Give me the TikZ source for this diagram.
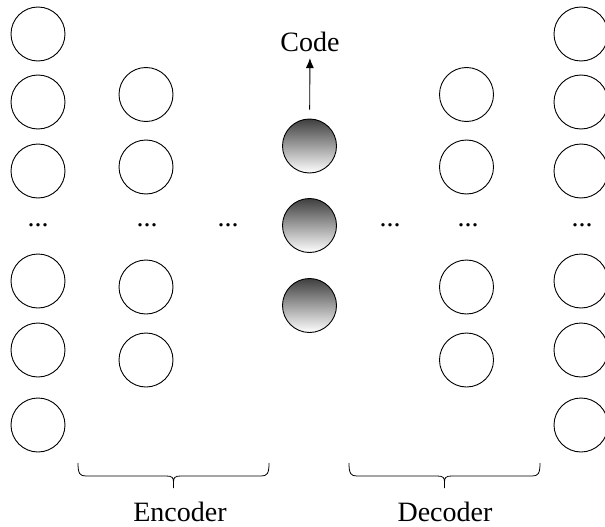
\documentclass[tikz,border=0pt]{standalone}
\usepackage{fontspec}
\setmainfont{Liberation Serif}
\usetikzlibrary{arrows.meta}
\usetikzlibrary{calc}

\tikzset{
    unit/.style={circle, draw, line width=0.9pt, minimum size=54pt, inner sep=0pt},
    codeunit/.style={unit, top color=black!75, bottom color=white},
    dots/.style={font=\fontsize{28}{33}\selectfont, inner sep=0pt},
    lbl/.style={font=\fontsize{28}{33}\selectfont, inner sep=6pt},
    brc/.style={line width=0.8pt, to path={
        let \p1=(\tikztostart), \p2=(\tikztotarget), \p3=($(\p1)!0.5!(\p2)$) in
        (\p1) .. controls (\x1,\y1-11pt) and (\x1+2pt,\y1-13pt) .. (\x1+8pt,\y1-13pt)
        -- (\x3-7pt,\y1-13pt) .. controls (\x3-1pt,\y1-13pt) and (\x3,\y1-15pt) .. (\x3,\y1-19pt)
        -- (\x3,\y1-25pt) -- (\x3,\y1-19pt)
        .. controls (\x3,\y1-15pt) and (\x3+1pt,\y1-13pt) .. (\x3+7pt,\y1-13pt)
        -- (\x2-8pt,\y1-13pt) .. controls (\x2-2pt,\y1-13pt) and (\x2,\y1-11pt) .. (\p2)}}
}

\begin{document}
\begin{tikzpicture}[x=1pt, y=-1pt]
\useasboundingbox (0,0) rectangle (605,527);
%\draw[thin, opacity=0.5] (0,0) grid[step=50] (605,527);

%%% couches

% input
\foreach \i/\y in {1/34,2/102,3/171,4/281,5/350,6/425}
    \node[unit] (in\i) at (38,\y) {};
\node[dots] (indots) at (38,225) {...};

% hidden 1
\foreach \i/\y in {1/94.5,2/167,3/287,4/360}
    \node[unit] (ha\i) at (146,\y) {};
\node[dots] (hadots) at (147,225) {...};
\node[dots] (encdots) at (228,225) {...};

% code
\foreach \i/\y in {1/146,2/225.5,3/305.5}
    \node[codeunit] (c\i) at (309.5,\y) {};
\node[lbl] (code) at (310,42) {Code};

% hidden 2
\node[dots] (decdots) at (390,225) {...};
\foreach \i/\y in {1/94.5,2/167,3/287,4/360}
    \node[unit] (hb\i) at (466.5,\y) {};
\node[dots] (hbdots) at (468,225) {...};

% output
\foreach \i/\y in {1/34,2/102,3/171,4/281,5/350,6/425}
    \node[unit] (out\i) at (581,\y) {};
\node[dots] (outdots) at (582,225) {...};

%%% liens

\draw[line width=0.9pt, -{Latex[length=10pt, width=8pt]}, shorten <=9pt] (c1) -- (code);

% accolades
\coordinate (encl) at (78,463);
\coordinate (encr) at (269,463);
\coordinate (decl) at (349,463);
\coordinate (decr) at (540,463);
\draw[brc] (encl) to (encr);
\draw[brc] (decl) to (decr);
\node[lbl] (enc) at (180,512) {Encoder};
\node[lbl] (dec) at (445,512) {Decoder};

\end{tikzpicture}
\end{document}
